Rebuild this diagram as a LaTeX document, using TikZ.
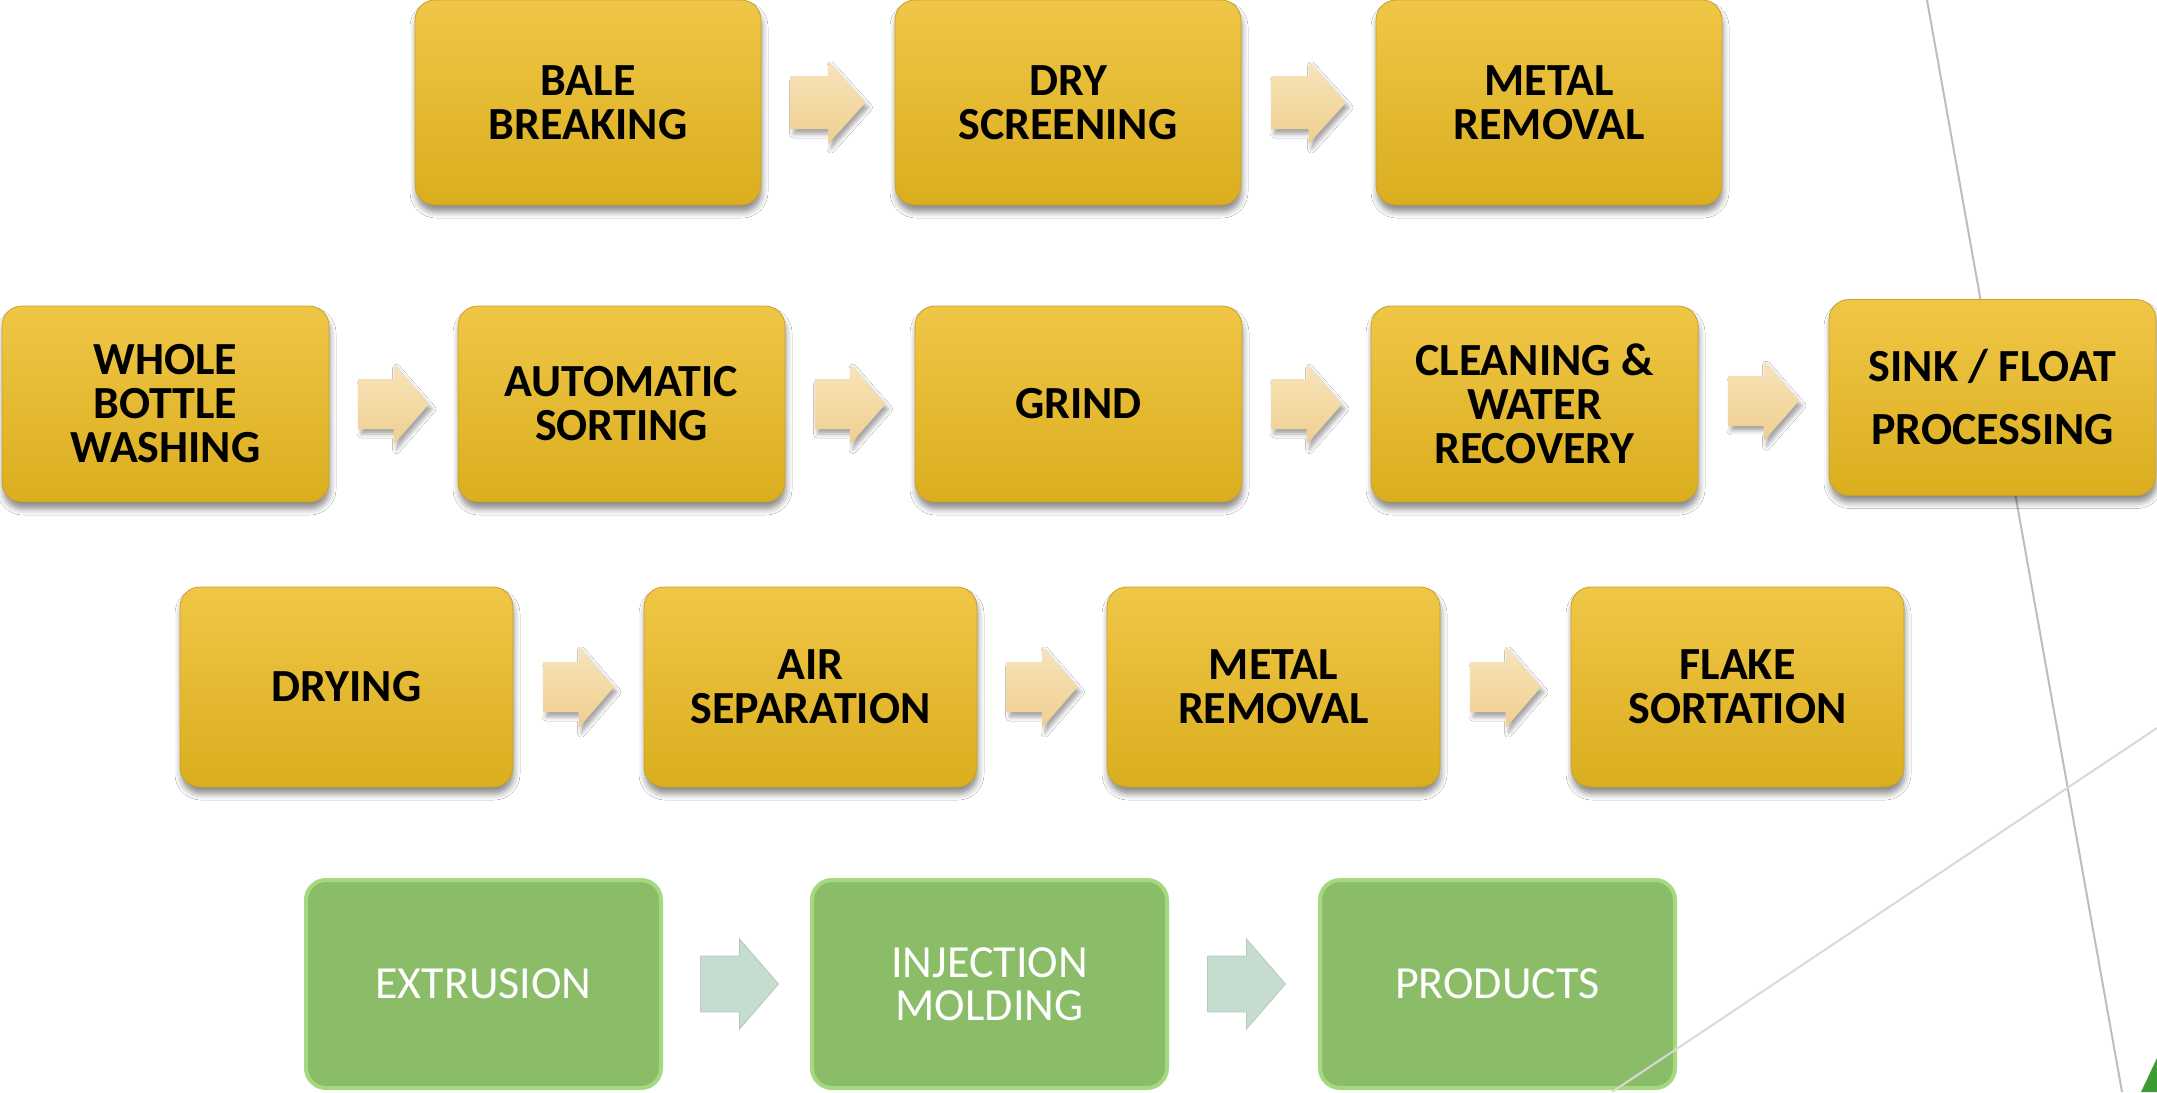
\documentclass[tikz,border=0pt]{standalone}
\usepackage{fontspec}
\setmainfont{Carlito}
\usetikzlibrary{calc,shadows.blur}
\definecolor{yTop}{HTML}{F0C647}
\definecolor{yBot}{HTML}{DAAE1E}
\definecolor{yEdge}{HTML}{C9A02C}
\definecolor{aTop}{HTML}{F8E4BA}
\definecolor{aBot}{HTML}{EFCF90}
\definecolor{gFill}{HTML}{8BBD69}
\definecolor{gEdge}{HTML}{A4D980}
\definecolor{gaFill}{HTML}{C6DCCE}
\definecolor{gaEdge}{HTML}{B2CCBC}
\definecolor{lineA}{HTML}{BDBDBD}
\definecolor{lineB}{HTML}{D9D9D9}
\definecolor{triG}{HTML}{3C9B35}
\tikzset{
  ybox/.style={rounded corners=20pt, top color=yTop, bottom color=yBot,
    draw=yEdge, line width=0.8pt,
    blur shadow={shadow xshift=1pt, shadow yshift=-7pt, shadow blur radius=6pt, shadow opacity=45},
    align=center, text=black, inner sep=0pt,
    font=\fontsize{46}{44}\selectfont\bfseries},
  gbox/.style={rounded corners=20pt, fill=gFill, draw=gEdge, line width=4pt,
    align=center, text=white, inner sep=0pt,
    font=\fontsize{46}{43}\selectfont},
  yarrow/.style={top color=aTop, bottom color=aBot,
    blur shadow={shadow xshift=3pt, shadow yshift=-5pt, shadow blur radius=4pt, shadow opacity=35}},
  garrow/.style={fill=gaFill, draw=gaEdge, line width=0.8pt},
}
% name, center, length, shaft width, head width, style
\newcommand\BlockArrow[6]{%
  \coordinate (#1) at (#2);
  \path[#6] ($(#1)+(-#3/2,#4/2)$) -- ($(#1)+(0,#4/2)$) -- ($(#1)+(0,#5/2)$)
    -- ($(#1)+(#3/2,0)$) -- ($(#1)+(0,-#5/2)$) -- ($(#1)+(0,-#4/2)$)
    -- ($(#1)+(-#3/2,-#4/2)$) -- cycle;}
\begin{document}
\begin{tikzpicture}[x=1pt,y=-1pt]
\useasboundingbox[fill=white] (0,0) rectangle (2157,1092);
% background lines
\coordinate (la1) at (1927,0);
\coordinate (la2) at (2122,1092);
\draw[lineA, line width=2pt] (la1) -- (la2);

% row 1
\begin{scope}[every node/.append style={minimum width=346pt, minimum height=205pt}]
\node[ybox] (bale)  at (588,102.5)  {BALE\\BREAKING};
\node[ybox] (dry)   at (1068,102.5) {DRY\\SCREENING};
\node[ybox] (metal1) at (1549,102.5) {METAL\\REMOVAL};
\end{scope}
% row 2
\begin{scope}[every node/.append style={minimum width=327pt, minimum height=196pt}]
\node[ybox] (whole) at (165.5,404) {WHOLE\\BOTTLE\\WASHING};
\node[ybox] (auto)  at (621.5,404) {AUTOMATIC\\SORTING};
\node[ybox] (grind) at (1078.5,404) {GRIND};
\node[ybox] (clean) at (1534.5,404) {CLEANING \&\\WATER\\RECOVERY};
\node[ybox, font=\fontsize{46}{63}\selectfont\bfseries] (sink) at (1992.5,397.5) {SINK / FLOAT\\PROCESSING};
\end{scope}
% row 3
\begin{scope}[every node/.append style={minimum width=333pt, minimum height=200pt}]
\node[ybox] (drying) at (346.5,687) {DRYING};
\node[ybox] (air)    at (810.5,687) {AIR\\SEPARATION};
\node[ybox] (metal2) at (1273.5,687) {METAL\\REMOVAL};
\node[ybox] (flake)  at (1737.5,687) {FLAKE\\SORTATION};
\end{scope}
% row 4
\begin{scope}[every node/.append style={minimum width=355pt, minimum height=208pt}]
\node[gbox] (extr) at (483.5,984) {EXTRUSION};
\node[gbox] (inj)  at (989.5,984) {INJECTION\\MOLDING};
\node[gbox] (prod) at (1497.5,984) {PRODUCTS};
\end{scope}

% arrows
\BlockArrow{a1}{$(bale.east)!0.5!(dry.west)$}{75}{53}{83}{yarrow}
\BlockArrow{a2}{$(dry.east)!0.5!(metal1.west)$}{75}{53}{83}{yarrow}
\BlockArrow{a3}{$(whole.east)!0.5!(auto.west)$}{71}{50}{81}{yarrow}
\BlockArrow{a4}{$(auto.east)!0.5!(grind.west)$}{71}{50}{81}{yarrow}
\BlockArrow{a5}{$(grind.east)!0.5!(clean.west)$}{71}{50}{81}{yarrow}
\BlockArrow{a6}{$(clean.east)!0.5!(sink.west)$}{71}{50}{81}{yarrow}
\BlockArrow{a7}{$(drying.east)!0.5!(air.west)$}{71}{50}{82}{yarrow}
\BlockArrow{a8}{$(air.east)!0.5!(metal2.west)$}{71}{50}{82}{yarrow}
\BlockArrow{a9}{$(metal2.east)!0.5!(flake.west)$}{71}{50}{82}{yarrow}
\BlockArrow{a10}{$(extr.east)!0.5!(inj.west)+(3,0)$}{78}{56}{90}{garrow}
\BlockArrow{a11}{$(inj.east)!0.5!(prod.west)+(3,0)$}{78}{56}{90}{garrow}

% foreground line and corner triangle
\coordinate (lb1) at (2157,728);
\coordinate (lb2) at (1612,1092);
\draw[lineB, line width=2pt] (lb1) -- (lb2);
\fill[triG] (2141,1092) -- (2157,1058) -- (2157,1092) -- cycle;
\end{tikzpicture}
\end{document}
